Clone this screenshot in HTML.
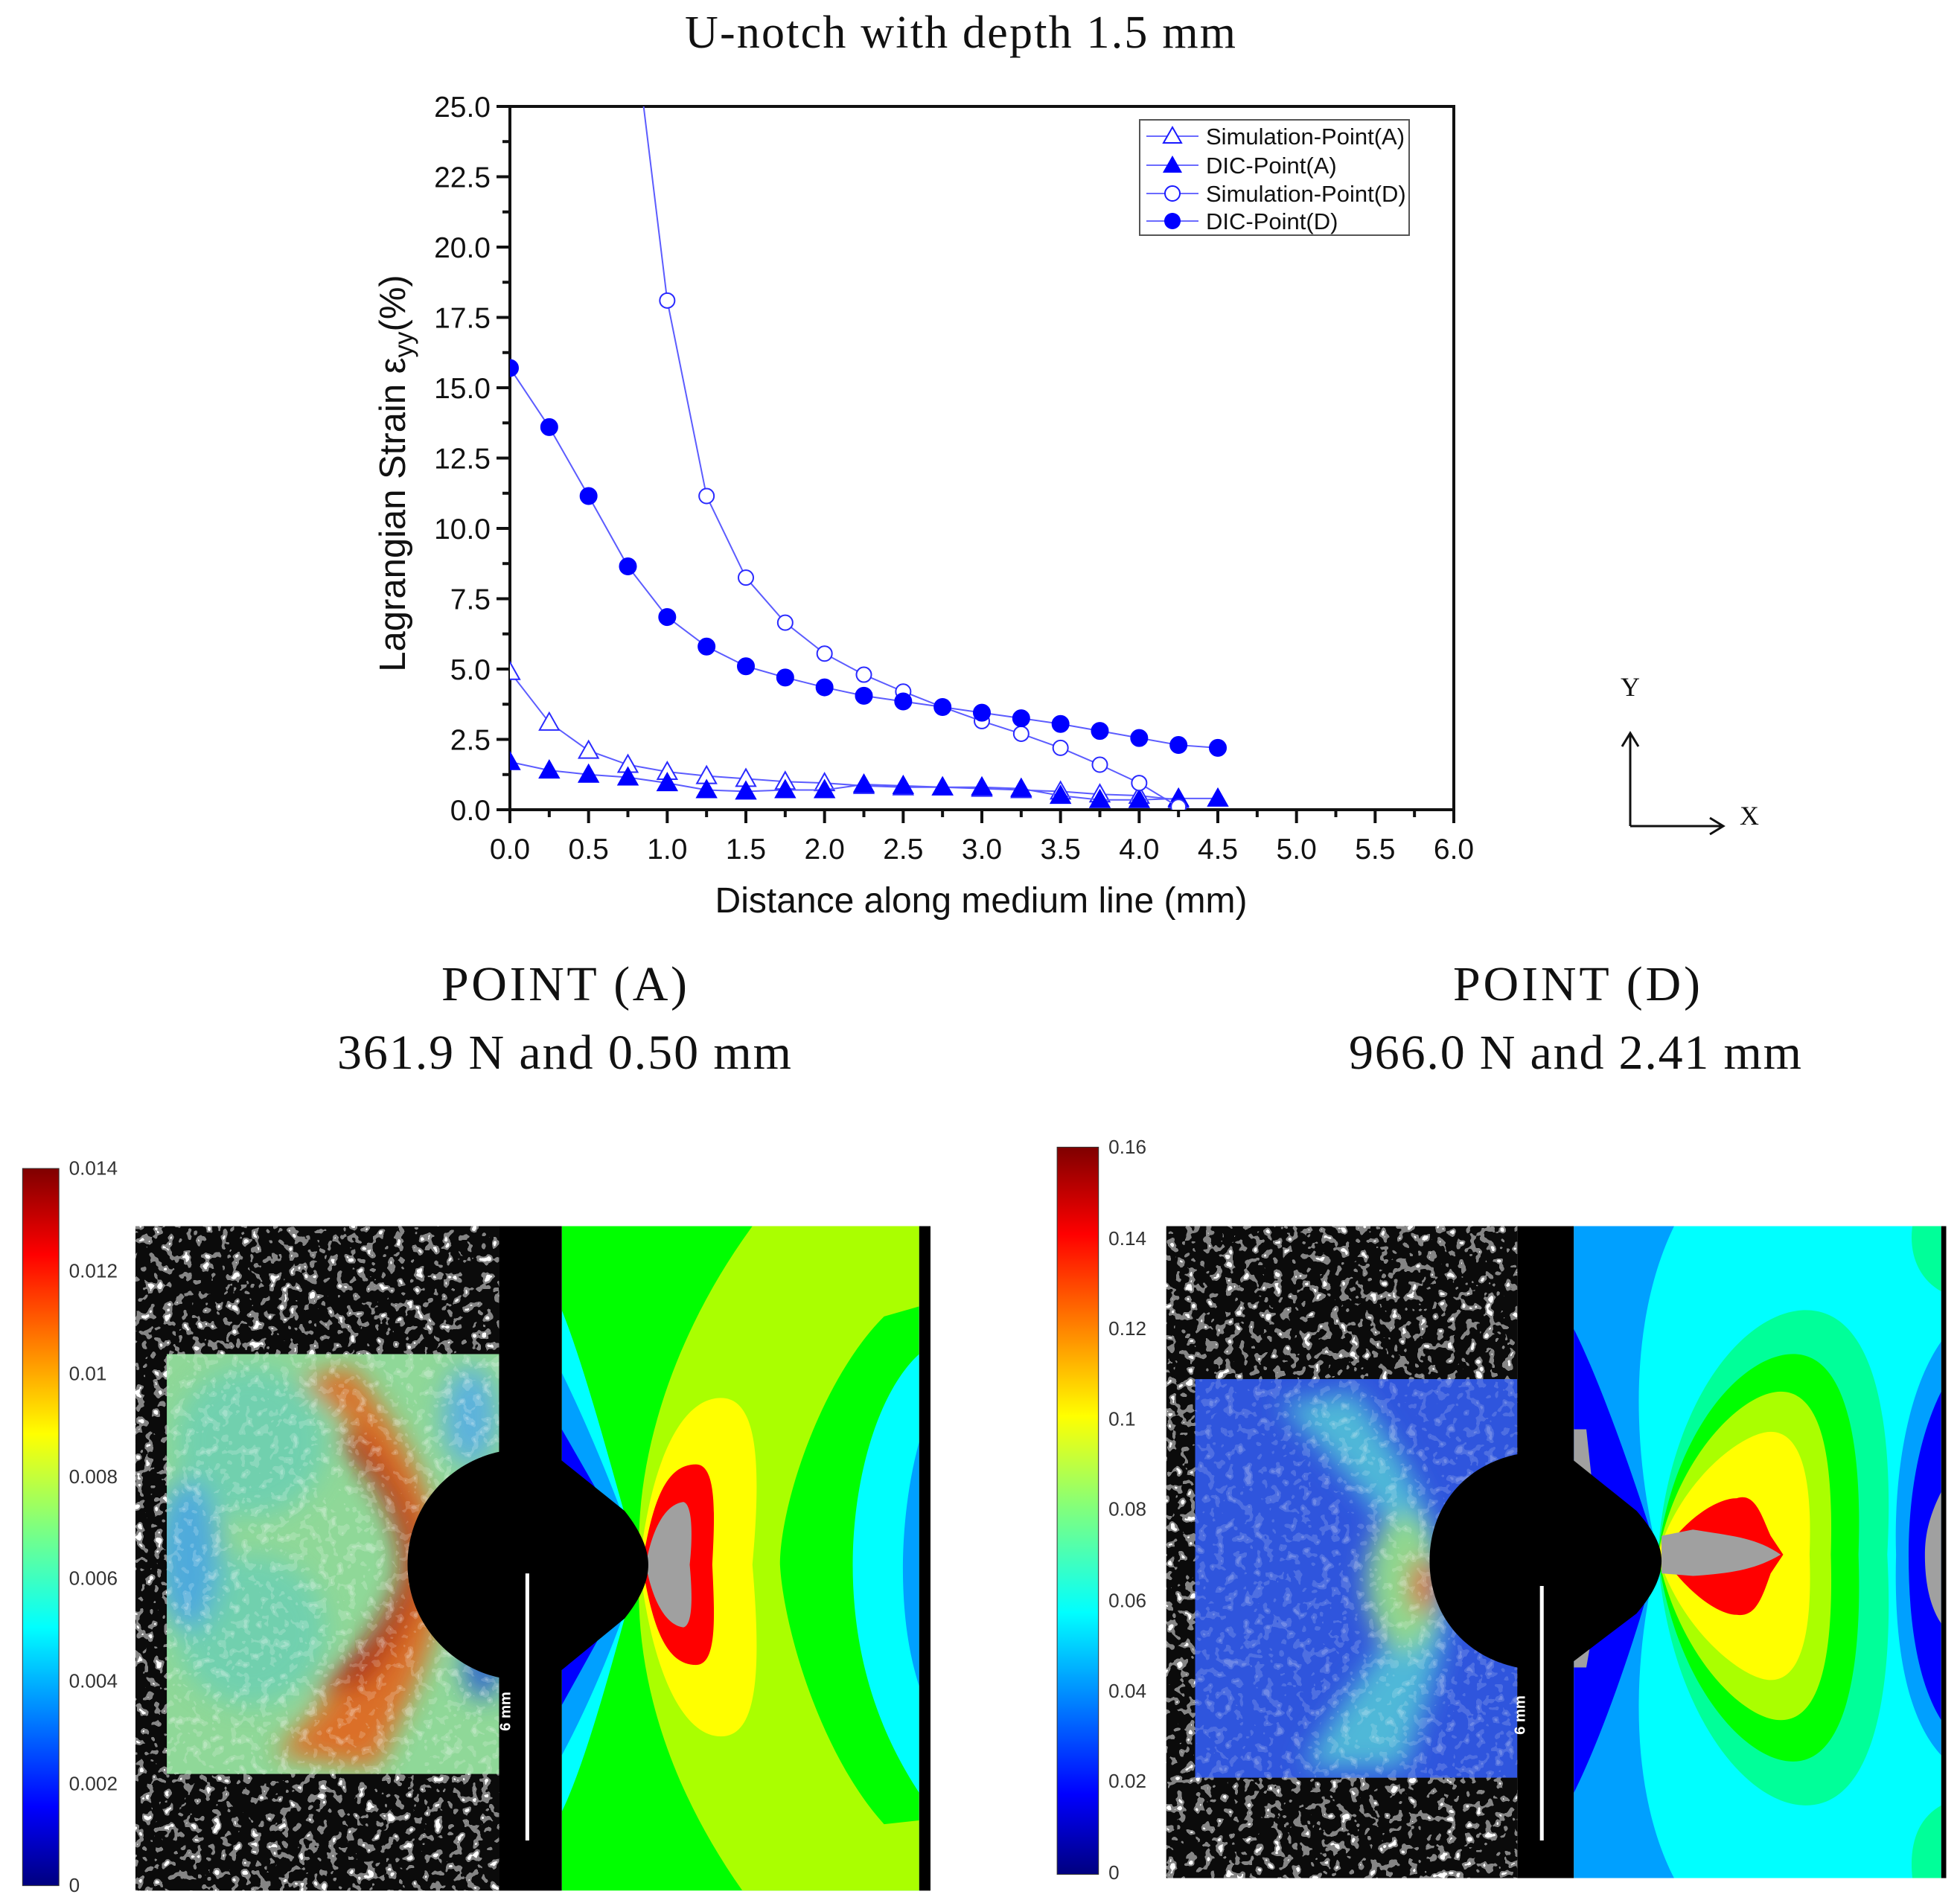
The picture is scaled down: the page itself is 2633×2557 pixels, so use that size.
<!DOCTYPE html>
<html><head><meta charset="utf-8"><style>
html,body{margin:0;padding:0;background:#fff;}
svg{display:block;}
.tk{font-family:"Liberation Sans",sans-serif;font-size:39px;fill:#111;}
.serif{font-family:"Liberation Serif",serif;fill:#111;}
.cb{font-family:"Liberation Sans",sans-serif;font-size:15.5px;fill:#333;}
</style></head><body>
<svg id="root" width="2633" height="2557" viewBox="0 0 2633 2557" xmlns="http://www.w3.org/2000/svg">
<defs>
  <clipPath id="plotclip"><rect x="685" y="143" width="1268" height="945"/></clipPath>
  <filter id="speckle" x="0" y="0" width="100%" height="100%">
    <feTurbulence type="fractalNoise" baseFrequency="0.13" numOctaves="2" seed="4"/>
    <feColorMatrix type="matrix" values="0 0 0 0 1  0 0 0 0 1  0 0 0 0 1  1 0 0 0 0"/>
    <feComponentTransfer><feFuncA type="discrete" tableValues="0 0 0 0 0.5 1 1"/></feComponentTransfer>
  </filter>
  <filter id="blur8"><feGaussianBlur stdDeviation="10"/></filter>
  <linearGradient id="jet" x1="0" y1="1" x2="0" y2="0">
    <stop offset="0" stop-color="#00007f"/><stop offset="0.11" stop-color="#0000ff"/>
    <stop offset="0.36" stop-color="#00ffff"/><stop offset="0.5" stop-color="#7fff7f"/>
    <stop offset="0.63" stop-color="#ffff00"/><stop offset="0.88" stop-color="#ff0000"/>
    <stop offset="1" stop-color="#7f0000"/>
  </linearGradient>
  <clipPath id="dicA"><rect x="133" y="1080" width="265" height="335"/></clipPath>
  <clipPath id="dicD"><rect x="953" y="1100" width="257" height="318"/></clipPath>
  <clipPath id="feA"><rect x="448" y="978" width="285" height="530"/></clipPath>
  <clipPath id="feD"><rect x="1255" y="978" width="293" height="520"/></clipPath>
</defs>

<text class="serif" x="1290" y="64" font-size="62" text-anchor="middle" textLength="740">U-notch with depth 1.5 mm</text>

<g id="chart"></g>

<g>
  <rect x="1531" y="161" width="362" height="155" fill="#fff" stroke="#555" stroke-width="2"/>
  <g>
    <line x1="1540" y1="183" x2="1610" y2="183" stroke="#6b6bff" stroke-width="2"/>
    <polygon points="1575,171 1587,192 1563,192" fill="#fff" stroke="#1a1aff" stroke-width="2"/>
    <text x="1620" y="194" font-family="Liberation Sans,sans-serif" font-size="31" fill="#111">Simulation-Point(A)</text>
  </g>
  <g>
    <line x1="1540" y1="222" x2="1610" y2="222" stroke="#6b6bff" stroke-width="2"/>
    <polygon points="1575,209 1588,232 1562,232" fill="#0000ff"/>
    <text x="1620" y="233" font-family="Liberation Sans,sans-serif" font-size="31" fill="#111">DIC-Point(A)</text>
  </g>
  <g>
    <line x1="1540" y1="260" x2="1610" y2="260" stroke="#6b6bff" stroke-width="2"/>
    <circle cx="1575" cy="260" r="10" fill="#fff" stroke="#1a1aff" stroke-width="2"/>
    <text x="1620" y="271" font-family="Liberation Sans,sans-serif" font-size="31" fill="#111">Simulation-Point(D)</text>
  </g>
  <g>
    <line x1="1540" y1="297" x2="1610" y2="297" stroke="#6b6bff" stroke-width="2"/>
    <circle cx="1575" cy="297" r="11" fill="#0000ff"/>
    <text x="1620" y="308" font-family="Liberation Sans,sans-serif" font-size="31" fill="#111">DIC-Point(D)</text>
  </g>
</g>

<g stroke="#111" stroke-width="3" fill="none">
  <line x1="2190" y1="1110" x2="2190" y2="987"/>
  <polyline points="2179,1003 2190,985 2201,1003"/>
  <line x1="2190" y1="1110" x2="2313" y2="1110"/>
  <polyline points="2297,1099 2315,1110 2297,1121"/>
</g>
<text class="serif" x="2190" y="935" font-size="36" text-anchor="middle">Y</text>
<text class="serif" x="2350" y="1108" font-size="36" text-anchor="middle">X</text>

<text class="serif" x="758" y="1344" font-size="66" text-anchor="middle" textLength="330">POINT (A)</text>
<text class="serif" x="758" y="1436" font-size="66" text-anchor="middle" textLength="610">361.9 N and 0.50 mm</text>
<text class="serif" x="2118" y="1344" font-size="66" text-anchor="middle" textLength="332">POINT (D)</text>
<text class="serif" x="2116" y="1436" font-size="66" text-anchor="middle" textLength="608">966.0 N and 2.41 mm</text>

<g transform="scale(1.6846)">
  <g>
    <rect x="18" y="932" width="29" height="572" fill="url(#jet)" stroke="#333" stroke-width="0.6"/>
    <text class="cb" x="55" y="937">0.014</text><text class="cb" x="55" y="1019">0.012</text>
    <text class="cb" x="55" y="1101">0.01</text><text class="cb" x="55" y="1183">0.008</text>
    <text class="cb" x="55" y="1264">0.006</text><text class="cb" x="55" y="1346">0.004</text>
    <text class="cb" x="55" y="1428">0.002</text><text class="cb" x="55" y="1509">0</text>
  </g>
  <g>
    <rect x="108" y="978" width="290" height="530" fill="#0b0b0b"/>
    <rect x="108" y="978" width="290" height="530" filter="url(#speckle)"/>
    <g clip-path="url(#dicA)">
      <rect x="133" y="1080" width="265" height="335" fill="#8fd898"/>
      <g filter="url(#blur8)" opacity="0.95">
        <ellipse cx="200" cy="1150" rx="60" ry="60" fill="#6fd0b0"/>
        <ellipse cx="200" cy="1300" rx="60" ry="60" fill="#6fd0b0"/>
        <ellipse cx="150" cy="1240" rx="25" ry="60" fill="#4ba8e0"/>
        <ellipse cx="375" cy="1130" rx="22" ry="40" fill="#5ab0e0"/>
        <ellipse cx="385" cy="1330" rx="15" ry="25" fill="#2a60d0"/>
        <path d="M240,1100 C300,1150 330,1200 330,1250 C320,1300 280,1330 220,1400 L300,1410 C340,1330 360,1290 350,1230 C340,1170 310,1130 280,1090 Z" fill="#e06a20"/>
        <path d="M270,1150 C310,1190 325,1230 320,1260 C305,1300 285,1320 250,1350 L290,1345 C325,1300 340,1270 335,1230 C325,1190 300,1160 285,1140 Z" fill="#b01010"/>
      </g>
      <rect x="133" y="1080" width="265" height="335" filter="url(#speckle)" opacity="0.35"/>
    </g>
  </g>
  <g>
    <g clip-path="url(#feA)">
      <rect x="448" y="978" width="285" height="530" fill="#00ff00"/>
      <path d="M600,978 L733,978 L733,1042 L705,1050 C655,1100 622,1200 622,1248 C625,1300 655,1400 705,1455 L733,1452 L733,1508 L592,1508 C530,1420 505,1330 510,1248 C505,1160 540,1060 600,978 Z" fill="#aaff00"/>
      <path d="M733,1080 C700,1110 680,1180 680,1248 C680,1320 700,1380 733,1430 Z" fill="#00ffff"/>
      <path d="M733,1150 C722,1190 720,1230 720,1250 C720,1290 725,1320 733,1345 Z" fill="#00a0ff"/>
      <path d="M448,1045 C470,1100 495,1200 510,1248 C495,1300 470,1400 448,1445 Z" fill="#00ffff"/>
      <path d="M448,1095 C475,1150 500,1215 510,1248 C500,1285 475,1350 448,1400 Z" fill="#00a0ff"/>
      <path d="M448,1140 L510,1248 L448,1360 Z" fill="#0000ff"/>
      <path d="M510,1248 C520,1160 545,1115 575,1115 C605,1115 607,1170 600,1248 C607,1330 605,1385 575,1385 C545,1385 520,1335 510,1248 Z" fill="#ffff00"/>
      <path d="M512,1248 C520,1200 530,1168 555,1168 C572,1168 570,1210 568,1248 C570,1290 572,1328 555,1328 C530,1328 520,1295 512,1248 Z" fill="#ff0000"/>
      <path d="M515,1248 C520,1220 530,1200 545,1198 C553,1200 552,1230 550,1248 C552,1270 553,1296 545,1298 C530,1296 520,1275 515,1248 Z" fill="#a0a0a0"/>
    </g>
    <rect x="733" y="978" width="9" height="530" fill="#000"/>
  </g>
  <g>
    <rect x="398" y="978" width="50" height="530" fill="#000"/>
    <path d="M448,1165 L498,1205 C510,1220 517,1235 517,1248 C517,1262 510,1276 498,1291 L448,1332 L398,1338 C360,1330 325,1295 325,1248 C325,1200 360,1166 398,1158 Z" fill="#000"/>
    <rect x="419" y="1255" width="3" height="213" fill="#fff"/>
    <text x="407" y="1365" font-family="Liberation Sans,sans-serif" font-size="12" font-weight="bold" fill="#fff" text-anchor="middle" transform="rotate(-90 407 1365)">6 mm</text>
  </g>

  <g>
    <rect x="843" y="915" width="33" height="580" fill="url(#jet)" stroke="#333" stroke-width="0.6"/>
    <text class="cb" x="884" y="920">0.16</text><text class="cb" x="884" y="993">0.14</text>
    <text class="cb" x="884" y="1065">0.12</text><text class="cb" x="884" y="1137">0.1</text>
    <text class="cb" x="884" y="1209">0.08</text><text class="cb" x="884" y="1282">0.06</text>
    <text class="cb" x="884" y="1354">0.04</text><text class="cb" x="884" y="1426">0.02</text>
    <text class="cb" x="884" y="1499">0</text>
  </g>
  <g>
    <rect x="930" y="978" width="280" height="520" fill="#0b0b0b"/>
    <rect x="930" y="978" width="280" height="520" filter="url(#speckle)"/>
    <g clip-path="url(#dicD)">
      <rect x="953" y="1100" width="257" height="318" fill="#2f55dd"/>
      <g filter="url(#blur8)">
        <path d="M1020,1120 C1080,1180 1120,1230 1135,1262 C1100,1320 1060,1370 1040,1410 L1120,1410 C1140,1350 1160,1300 1150,1262 C1150,1220 1120,1160 1080,1110 Z" fill="#4fb8d8"/>
        <ellipse cx="1120" cy="1262" rx="30" ry="55" fill="#8fd88f"/>
        <ellipse cx="1135" cy="1265" rx="9" ry="22" fill="#e03010"/>
      </g>
      <rect x="953" y="1100" width="257" height="318" filter="url(#speckle)" opacity="0.3"/>
    </g>
  </g>
  <g>
    <g clip-path="url(#feD)">
      <rect x="1255" y="978" width="293" height="520" fill="#00ffff"/>
      <path d="M1255,978 L1335,978 C1300,1050 1300,1150 1322,1240 C1300,1330 1300,1430 1335,1498 L1255,1498 Z" fill="#00a0ff"/>
      <path d="M1255,1060 C1280,1110 1310,1200 1322,1240 C1310,1290 1280,1380 1255,1430 Z" fill="#0000ff"/>
      <path d="M1255,1140 L1265,1140 L1272,1205 L1255,1205 Z M1255,1290 L1272,1290 L1265,1330 L1255,1330 Z" fill="#a0a0a0"/>
      <path d="M1322,1240 C1330,1120 1390,1045 1440,1045 C1500,1045 1510,1150 1505,1240 C1510,1330 1500,1440 1440,1440 C1390,1440 1330,1360 1322,1240 Z" fill="#00ff99"/>
      <path d="M1322,1240 C1335,1140 1390,1080 1430,1080 C1475,1080 1485,1160 1482,1240 C1485,1320 1475,1405 1430,1405 C1390,1405 1335,1340 1322,1240 Z" fill="#00ff00"/>
      <path d="M1322,1240 C1338,1160 1390,1110 1420,1110 C1455,1110 1462,1170 1460,1240 C1462,1310 1455,1372 1420,1372 C1390,1372 1338,1320 1322,1240 Z" fill="#aaff00"/>
      <path d="M1322,1240 C1340,1180 1390,1142 1412,1142 C1440,1142 1445,1190 1443,1240 C1445,1290 1440,1340 1412,1340 C1390,1340 1340,1300 1322,1240 Z" fill="#ffff00"/>
      <path d="M1325,1240 C1345,1210 1370,1195 1385,1195 C1400,1190 1405,1210 1412,1225 L1422,1240 L1412,1255 C1405,1275 1400,1290 1385,1288 C1370,1288 1345,1270 1325,1240 Z" fill="#ff0000"/>
      <path d="M1325,1225 L1350,1220 C1380,1225 1400,1226 1420,1240 C1400,1252 1380,1255 1350,1257 L1325,1255 Z" fill="#a0a0a0"/>
      <path d="M1548,1070 C1520,1110 1510,1180 1512,1240 C1510,1310 1520,1370 1548,1400 Z" fill="#00a0ff"/>
      <path d="M1548,1110 C1528,1150 1522,1200 1522,1240 C1522,1290 1528,1340 1548,1372 Z" fill="#0000ff"/>
      <path d="M1548,1190 C1538,1210 1535,1225 1535,1240 C1535,1260 1538,1280 1548,1295 Z" fill="#a0a0a0"/>
      <path d="M1548,978 L1525,978 C1522,1000 1530,1020 1548,1030 Z M1548,1498 L1525,1498 C1522,1470 1530,1450 1548,1440 Z" fill="#00ff99"/>
    </g>
    <rect x="1548" y="978" width="4" height="520" fill="#000"/>
  </g>
  <g>
    <rect x="1210" y="978" width="45" height="520" fill="#000"/>
    <path d="M1255,1165 L1305,1205 C1318,1220 1325,1232 1325,1245 C1325,1258 1318,1272 1305,1287 L1255,1325 L1210,1330 C1170,1322 1140,1290 1140,1245 C1140,1200 1170,1168 1210,1160 Z" fill="#000"/>
    <rect x="1228" y="1265" width="3" height="203" fill="#fff"/>
    <text x="1216" y="1368" font-family="Liberation Sans,sans-serif" font-size="12" font-weight="bold" fill="#fff" text-anchor="middle" transform="rotate(-90 1216 1368)">6 mm</text>
  </g>
</g>
</svg>

<script>
const xSimA = [0,0.25,0.5,0.75,1.0,1.25,1.5,1.75,2.0,2.25,2.5,2.75,3.0,3.25,3.5,3.75,4.0,4.25];
const ySimA = [4.9,3.1,2.1,1.6,1.35,1.2,1.1,1.0,0.95,0.85,0.8,0.8,0.75,0.7,0.65,0.55,0.5,0.35];
const xDicA = [0,0.25,0.5,0.75,1.0,1.25,1.5,1.75,2.0,2.25,2.5,2.75,3.0,3.25,3.5,3.75,4.0,4.25,4.5];
const yDicA = [1.7,1.4,1.25,1.15,0.95,0.7,0.65,0.7,0.7,0.9,0.85,0.8,0.8,0.75,0.5,0.35,0.35,0.4,0.4];
const xSimD = [0.75,1.0,1.25,1.5,1.75,2.0,2.25,2.5,2.75,3.0,3.25,3.5,3.75,4.0,4.25];
const ySimD = [29.6,18.1,11.15,8.25,6.65,5.55,4.8,4.2,3.65,3.15,2.7,2.2,1.6,0.95,0.1];
const xDicD = [0,0.25,0.5,0.75,1.0,1.25,1.5,1.75,2.0,2.25,2.5,2.75,3.0,3.25,3.5,3.75,4.0,4.25,4.5];
const yDicD = [15.7,13.6,11.15,8.65,6.85,5.8,5.1,4.7,4.35,4.05,3.85,3.65,3.45,3.25,3.05,2.8,2.55,2.3,2.2];
const xTicks = [0,0.5,1.0,1.5,2.0,2.5,3.0,3.5,4.0,4.5,5.0,5.5,6.0];
const yTicks = [0,2.5,5.0,7.5,10.0,12.5,15.0,17.5,20.0,22.5,25.0];

const NS = 'http://www.w3.org/2000/svg';
const X0 = 685, X1 = 1953, Y0 = 1088, Y1 = 143;
function sx(v){ return X0 + v * (X1 - X0) / 6; }
function sy(v){ return Y0 - v * (Y0 - Y1) / 25; }
const chart = document.getElementById('chart');
function mk(tag, attrs, parent){
  const e = document.createElementNS(NS, tag);
  for (const k in attrs) e.setAttribute(k, attrs[k]);
  (parent || chart).appendChild(e);
  return e;
}

const frame = mk('rect', {x:X0, y:Y1, width:X1-X0, height:Y0-Y1, fill:'none', stroke:'#111', 'stroke-width':4});



yTicks.forEach(function(t){
  const ln = mk('line', {x1:X0-18, x2:X0, y1:sy(t), y2:sy(t), stroke:'#111', 'stroke-width':4});
  
  
  const lb = mk('text', {x:X0-26, y:sy(t)+14, 'text-anchor':'end', class:'tk'});
  lb.textContent = t.toFixed(1);
  
  
  if (t < 25) {
    const mn = mk('line', {x1:X0-10, x2:X0, y1:sy(t+1.25), y2:sy(t+1.25), stroke:'#111', 'stroke-width':4});
    
    
  }
});
xTicks.forEach(function(t){
  const ln = mk('line', {x1:sx(t), x2:sx(t), y1:Y0, y2:Y0+18, stroke:'#111', 'stroke-width':4});
  
  
  const lb = mk('text', {x:sx(t), y:Y0+66, 'text-anchor':'middle', class:'tk'});
  lb.textContent = t.toFixed(1);
  
  
  if (t < 6) {
    const mn = mk('line', {x1:sx(t+0.25), x2:sx(t+0.25), y1:Y0, y2:Y0+10, stroke:'#111', 'stroke-width':4});
    
    
  }
});

const xt = mk('text', {x:1318, y:1226, 'text-anchor':'middle', 'font-family':'Liberation Sans,sans-serif', 'font-size':48, fill:'#111'});
xt.textContent = 'Distance along medium line (mm)';


const yt = mk('text', {x:0, y:0, 'text-anchor':'middle', 'font-family':'Liberation Sans,sans-serif', 'font-size':49, fill:'#111', transform:'translate(544,636) rotate(-90)'});


const t1 = mk('tspan', {}, yt); t1.textContent = 'Lagrangian Strain ε';
const t2 = mk('tspan', {'font-size':35, dy:10}, yt); t2.textContent = 'yy';
const t3 = mk('tspan', {dy:-10}, yt); t3.textContent = '(%)';

const plot = mk('g', {'clip-path':'url(#plotclip)'});


function series(xs, ys, marker, filled, name){
  const g = mk('g', {}, plot);
  
  
  const pts = xs.map(function(x,i){ return sx(x) + ',' + sy(ys[i]); }).join(' ');
  const pl = mk('polyline', {points:pts, fill:'none', stroke:'#5c5cff', 'stroke-width':2}, g);
  
  
  xs.forEach(function(x,i){
    const cx = sx(x), cy = sy(ys[i]);
    let m;
    if (marker === 'tri') {
      m = mk('polygon', {points:(cx)+','+(cy-13)+' '+(cx+13)+','+(cy+10)+' '+(cx-13)+','+(cy+10),
        fill: filled ? '#0000ff' : '#fff', stroke: filled ? '#0000ff' : '#2a2aff', 'stroke-width':2}, g);
    } else {
      m = mk('circle', {cx:cx, cy:cy, r: filled ? 11 : 10, fill: filled ? '#0000ff' : '#fff', stroke: filled ? '#0000ff' : '#2a2aff', 'stroke-width':2}, g);
    }
    
    
  });
}
series(xSimA, ySimA, 'tri', false, 'series-simulation-a');
series(xDicA, yDicA, 'tri', true, 'series-dic-a');
series(xSimD, ySimD, 'circ', false, 'series-simulation-d');
series(xDicD, yDicD, 'circ', true, 'series-dic-d');
</script>
</body></html>
